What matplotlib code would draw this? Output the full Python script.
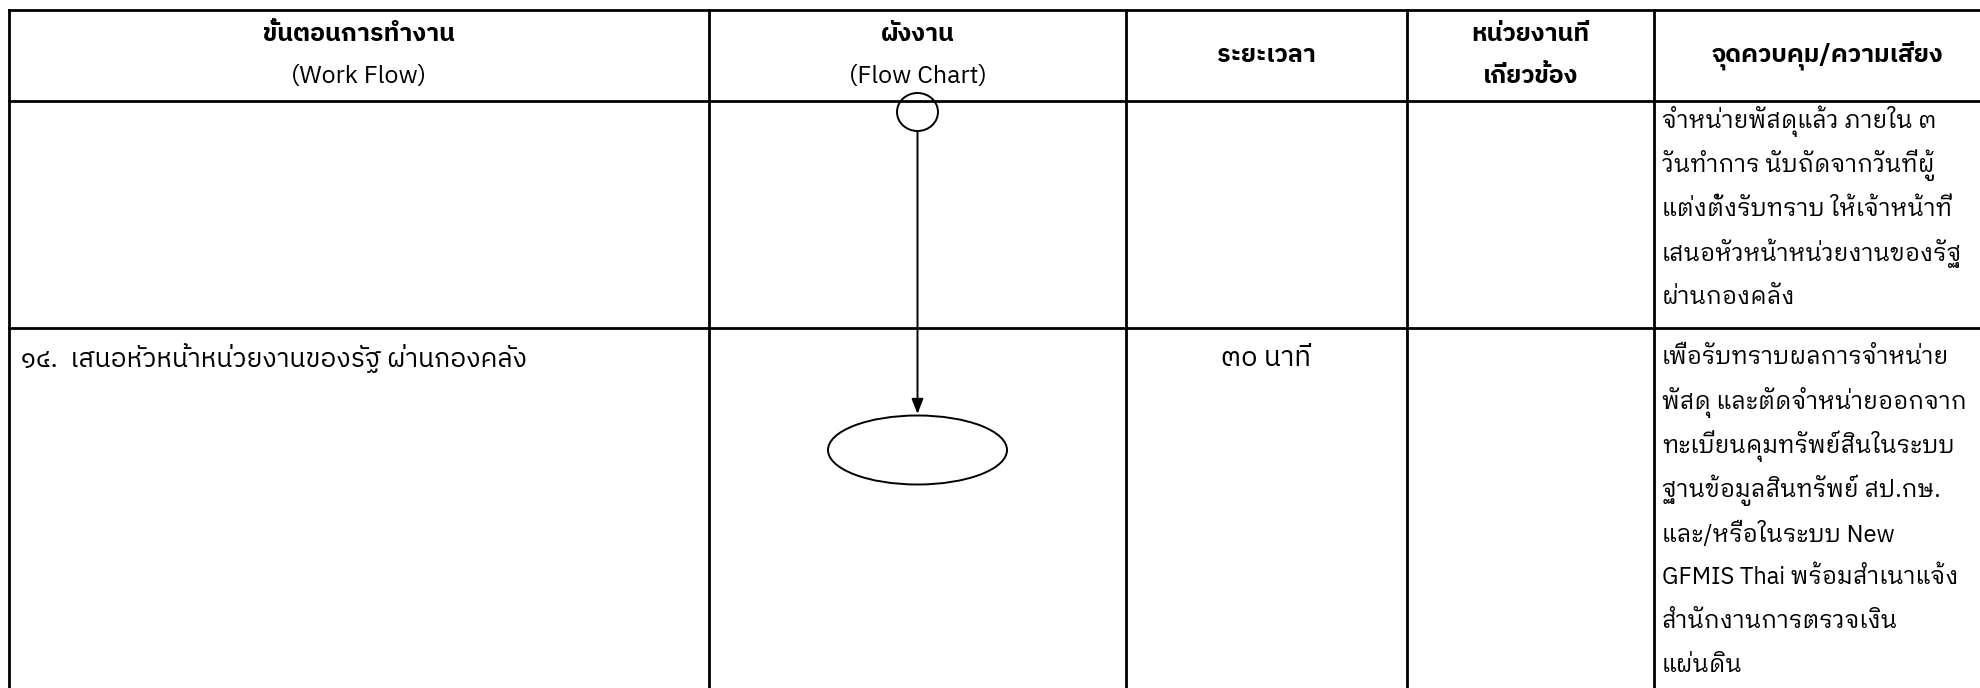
import matplotlib
matplotlib.use("Agg")
import matplotlib.pyplot as plt
from matplotlib.patches import Ellipse

# table content
headers = [
    ["ขั้นตอนการทำงาน", "(Work Flow)"],
    ["ผังงาน", "(Flow Chart)"],
    ["ระยะเวลา"],
    ["หน่วยงานที่", "เกี่ยวข้อง"],
    ["จุดควบคุม/ความเสี่ยง"],
]
steps = ["", "๑๔.  เสนอหัวหน้าหน่วยงานของรัฐ ผ่านกองคลัง"]
durations = ["", "๓๐ นาที"]
units = ["", ""]
risks = [
    ["จำหน่ายพัสดุแล้ว ภายใน ๓",
     "วันทำการ นับถัดจากวันที่ผู้",
     "แต่งตั้งรับทราบ ให้เจ้าหน้าที่",
     "เสนอหัวหน้าหน่วยงานของรัฐ",
     "ผ่านกองคลัง"],
    ["เพื่อรับทราบผลการจำหน่าย",
     "พัสดุ และตัดจำหน่ายออกจาก",
     "ทะเบียนคุมทรัพย์สินในระบบ",
     "ฐานข้อมูลสินทรัพย์ สป.กษ.",
     "และ/หรือในระบบ New",
     "GFMIS Thai พร้อมสำเนาแจ้ง",
     "สำนักงานการตรวจเงิน",
     "แผ่นดิน"],
]

# layout in pixels
W, H = 1981, 688
col_x = [9, 709, 1126, 1407, 1654, W]
row_y = [10, 101, 328, H]
line_h = 44

LOOP = ["IBM Plex Sans Thai Looped", "Noto Sans Thai Looped", "DejaVu Sans"]
PLAIN = ["IBM Plex Sans Thai", "Noto Sans Thai", "DejaVu Sans"]

fig = plt.figure(figsize=(W / 100, H / 100), dpi=100)
ax = fig.add_axes([0, 0, 1, 1])
ax.set_xlim(0, W)
ax.set_ylim(H, 0)
ax.axis("off")

# grid lines
lw = 2.0
for y in row_y[:-1]:
    ax.plot([col_x[0], W], [y, y], color="black", lw=lw, solid_capstyle="projecting")
for x in col_x[:-1]:
    ax.plot([x, x], [row_y[0], H], color="black", lw=lw, solid_capstyle="projecting")

# header
for i, lines in enumerate(headers):
    cx = (col_x[i] + col_x[i + 1]) / 2
    if i == 4:
        cx = (col_x[i] + W + 20) / 2
    if len(lines) == 1:
        ax.text(cx, 55, lines[0], ha="center", va="center", fontsize=18,
                fontweight="bold", family=PLAIN)
    else:
        ax.text(cx, 34, lines[0], ha="center", va="center", fontsize=18,
                fontweight="bold", family=PLAIN)
        if i == 3:
            ax.text(cx, 76, lines[1], ha="center", va="center", fontsize=18,
                    fontweight="bold", family=PLAIN)
        else:
            ax.text(cx, 77, lines[1], ha="center", va="center", fontsize=18,
                    family=LOOP)

# body rows
first_line = [121, 358]
for r in range(2):
    y0 = first_line[r]
    if steps[r]:
        ax.text(col_x[0] + 12, y0, steps[r], ha="left", va="center",
                fontsize=19, family=PLAIN)
    if durations[r]:
        ax.text((col_x[2] + col_x[3]) / 2, y0, durations[r], ha="center",
                va="center", fontsize=20, family=PLAIN)
    for k, txt in enumerate(risks[r]):
        ax.text(col_x[4] + 8, y0 + k * line_h, txt, ha="left", va="center",
                fontsize=17, family=LOOP)

# flow chart: start connector, arrow, terminator
fx = (col_x[1] + col_x[2]) / 2
ax.add_patch(Ellipse((fx, 112), 41, 38, fill=False, ec="black", lw=1.4, zorder=3))
ax.annotate("", xy=(fx, 414), xytext=(fx, 131),
            arrowprops=dict(arrowstyle="-|>,head_length=0.9,head_width=0.35",
                            color="black", lw=1.4, shrinkA=0, shrinkB=0))
ax.add_patch(Ellipse((fx, 450), 179, 69, fill=False, ec="black", lw=1.4, zorder=3))

fig.savefig("out.png", dpi=100)
